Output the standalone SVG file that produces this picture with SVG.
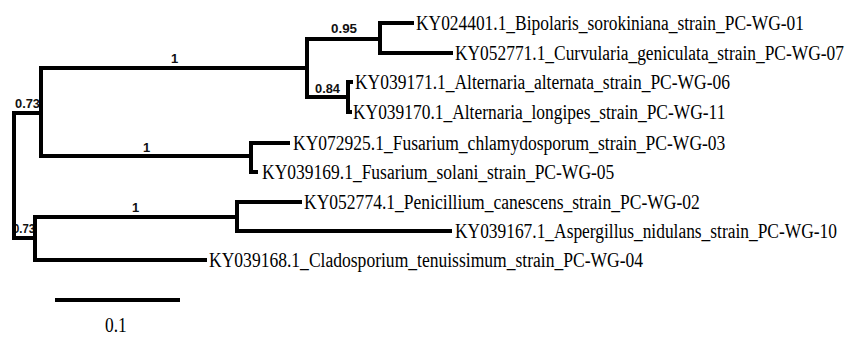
<svg xmlns="http://www.w3.org/2000/svg" width="857" height="337" viewBox="0 0 857 337">
<style>
.br{fill:none;stroke:#000;stroke-width:4;stroke-linecap:square;stroke-linejoin:miter}
.lf{font-family:"Liberation Serif","Times New Roman",serif;font-size:20px;fill:#000}
.bs{font-family:"Liberation Sans",Arial,sans-serif;font-size:13px;font-weight:bold;fill:#111}
</style>
<rect width="857" height="337" fill="#fff"/>
<g id="labels-support">
<text class="bs" x="15" y="108" textLength="25" lengthAdjust="spacingAndGlyphs">0.73</text>
<text class="bs" x="13" y="233" textLength="22" lengthAdjust="spacingAndGlyphs">0.73</text>
<text class="bs" x="171" y="63">1</text>
<text class="bs" x="143" y="152">1</text>
<text class="bs" x="132" y="212">1</text>
<text class="bs" x="331" y="33" textLength="26" lengthAdjust="spacingAndGlyphs">0.95</text>
<text class="bs" x="315" y="93" textLength="25" lengthAdjust="spacingAndGlyphs">0.84</text>
</g>
<g id="connectors">
<path class="br" d="M41 113 H14 V238 H35"/>
<path class="br" d="M307 68 H41 V156 H251"/>
<path class="br" d="M380 39 H307 V97 H348"/>
<path class="br" d="M412 23 H380 V53 H451"/>
<path class="br" d="M351 82 H348 V112 H350"/>
<path class="br" d="M288 143 H251 V172 H256"/>
<path class="br" d="M237 217 H35 V260 H205"/>
<path class="br" d="M300 202 H237 V231 H450"/>
</g>
<g id="leaf-bipolaris"><text class="lf" transform="translate(416 29.5) scale(0.87 1)" textLength="446" lengthAdjust="spacingAndGlyphs">KY024401.1_Bipolaris_sorokiniana_strain_PC-WG-01</text></g>
<g id="leaf-curvularia"><text class="lf" transform="translate(455 59.5) scale(0.87 1)" textLength="447" lengthAdjust="spacingAndGlyphs">KY052771.1_Curvularia_geniculata_strain_PC-WG-07</text></g>
<g id="leaf-alternata"><text class="lf" transform="translate(355 88.5) scale(0.87 1)" textLength="431" lengthAdjust="spacingAndGlyphs">KY039171.1_Alternaria_alternata_strain_PC-WG-06</text></g>
<g id="leaf-longipes"><text class="lf" transform="translate(353 118.5) scale(0.87 1)" textLength="428" lengthAdjust="spacingAndGlyphs">KY039170.1_Alternaria_longipes_strain_PC-WG-11</text></g>
<g id="leaf-chlamydosporum"><text class="lf" transform="translate(293 149.5) scale(0.87 1)" textLength="497" lengthAdjust="spacingAndGlyphs">KY072925.1_Fusarium_chlamydosporum_strain_PC-WG-03</text></g>
<g id="leaf-solani"><text class="lf" transform="translate(262 178.5) scale(0.87 1)" textLength="405" lengthAdjust="spacingAndGlyphs">KY039169.1_Fusarium_solani_strain_PC-WG-05</text></g>
<g id="leaf-penicillium"><text class="lf" transform="translate(304 208.5) scale(0.87 1)" textLength="455" lengthAdjust="spacingAndGlyphs">KY052774.1_Penicillium_canescens_strain_PC-WG-02</text></g>
<g id="leaf-aspergillus"><text class="lf" transform="translate(455 237.5) scale(0.87 1)" textLength="439" lengthAdjust="spacingAndGlyphs">KY039167.1_Aspergillus_nidulans_strain_PC-WG-10</text></g>
<g id="leaf-cladosporium"><text class="lf" transform="translate(209 266.5) scale(0.87 1)" textLength="499" lengthAdjust="spacingAndGlyphs">KY039168.1_Cladosporium_tenuissimum_strain_PC-WG-04</text></g>
<g id="scale-bar">
<path class="br" d="M55 300 H180" style="stroke-linecap:butt"/>
<text class="lf" transform="translate(105 332) scale(0.87 1)" textLength="25" lengthAdjust="spacingAndGlyphs">0.1</text>
</g>
</svg>
